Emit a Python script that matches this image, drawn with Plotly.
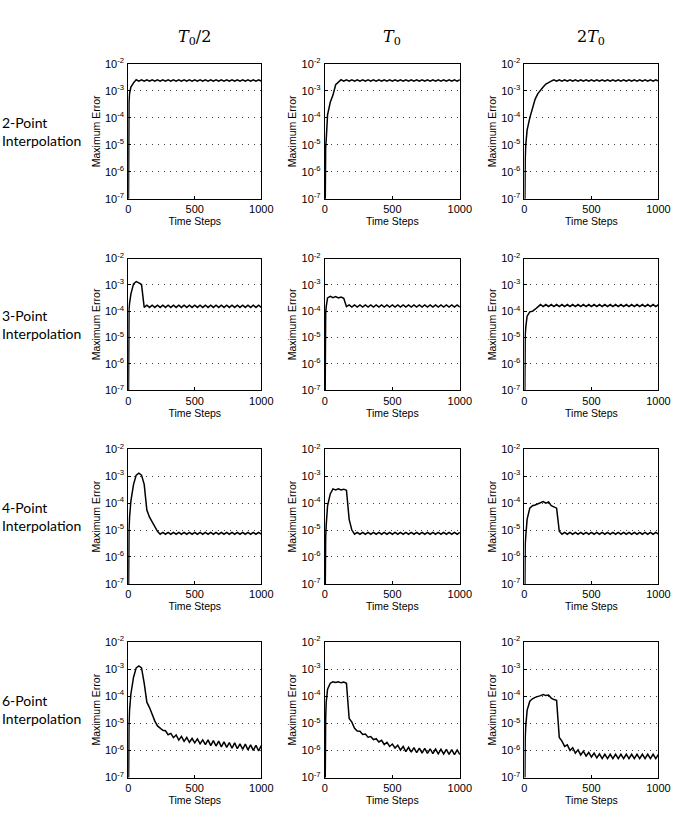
import plotly.graph_objects as go

# ---------------- data ----------------
col_titles = ["<i>T</i><sub>0</sub>/2", "<i>T</i><sub>0</sub>", "2<i>T</i><sub>0</sub>"]
row_titles = ["2-Point<br>Interpolation", "3-Point<br>Interpolation",
              "4-Point<br>Interpolation", "6-Point<br>Interpolation"]

steps = [0, 3, 6, 10, 14, 20, 40, 60, 80, 100, 120, 140, 160, 180, 200, 220, 240, 260,
         280, 300, 320, 340, 360, 380, 400, 420, 440, 460, 480, 500, 520, 540, 560, 580,
         600, 620, 640, 660, 680, 700, 720, 740, 760, 780, 800, 820, 840, 860, 880, 900,
         920, 940, 960, 980, 1000]

# 2-point interpolation
err_2pt_half = [1e-9, 2e-4, 4e-4, 8e-4, 1.1e-3, 1.4e-3, 2.0e-3, 2.6e-3,
                2.3e-3, 2.6e-3, 2.3e-3, 2.6e-3, 2.3e-3, 2.6e-3, 2.3e-3, 2.6e-3, 2.3e-3, 2.6e-3,
                2.3e-3, 2.6e-3, 2.3e-3, 2.6e-3, 2.3e-3, 2.6e-3, 2.3e-3, 2.6e-3, 2.3e-3, 2.6e-3,
                2.3e-3, 2.6e-3, 2.3e-3, 2.6e-3, 2.3e-3, 2.6e-3, 2.3e-3, 2.6e-3, 2.3e-3, 2.6e-3,
                2.3e-3, 2.6e-3, 2.3e-3, 2.6e-3, 2.3e-3, 2.6e-3, 2.3e-3, 2.6e-3, 2.3e-3, 2.6e-3,
                2.3e-3, 2.6e-3, 2.3e-3, 2.6e-3, 2.3e-3, 2.6e-3, 2.3e-3]
err_2pt_t0 = [1e-9, 3e-6, 8e-6, 1.5e-5, 4e-5, 1.3e-4, 3.8e-4, 7e-4, 1.7e-3, 2.2e-3,
              2.6e-3, 2.3e-3, 2.6e-3, 2.3e-3, 2.6e-3, 2.3e-3, 2.6e-3, 2.3e-3, 2.6e-3, 2.3e-3,
              2.6e-3, 2.3e-3, 2.6e-3, 2.3e-3, 2.6e-3, 2.3e-3, 2.6e-3, 2.3e-3, 2.6e-3, 2.3e-3,
              2.6e-3, 2.3e-3, 2.6e-3, 2.3e-3, 2.6e-3, 2.3e-3, 2.6e-3, 2.3e-3, 2.6e-3, 2.3e-3,
              2.6e-3, 2.3e-3, 2.6e-3, 2.3e-3, 2.6e-3, 2.3e-3, 2.6e-3, 2.3e-3, 2.6e-3, 2.3e-3,
              2.6e-3, 2.3e-3, 2.6e-3, 2.3e-3, 2.6e-3]
err_2pt_2t0 = [1e-9, 1e-6, 3e-6, 1e-5, 2e-5, 3.5e-5, 1e-4, 2.5e-4, 5e-4, 8e-4, 1.1e-3,
               1.4e-3, 1.8e-3, 2.1e-3, 2.3e-3,
               2.6e-3, 2.3e-3, 2.6e-3, 2.3e-3, 2.6e-3, 2.3e-3, 2.6e-3, 2.3e-3, 2.6e-3, 2.3e-3,
               2.6e-3, 2.3e-3, 2.6e-3, 2.3e-3, 2.6e-3, 2.3e-3, 2.6e-3, 2.3e-3, 2.6e-3, 2.3e-3,
               2.6e-3, 2.3e-3, 2.6e-3, 2.3e-3, 2.6e-3, 2.3e-3, 2.6e-3, 2.3e-3, 2.6e-3, 2.3e-3,
               2.6e-3, 2.3e-3, 2.6e-3, 2.3e-3, 2.6e-3, 2.3e-3, 2.6e-3, 2.3e-3, 2.6e-3, 2.3e-3]

# 3-point interpolation
err_3pt_half = [1e-9, 5e-5, 1.2e-4, 2e-4, 3e-4, 4.5e-4, 1.1e-3, 1.35e-3, 1.2e-3, 1.05e-3,
                1.4e-4, 1.7e-4, 1.4e-4, 1.7e-4, 1.4e-4, 1.7e-4, 1.4e-4, 1.7e-4, 1.4e-4, 1.7e-4,
                1.4e-4, 1.7e-4, 1.4e-4, 1.7e-4, 1.4e-4, 1.7e-4, 1.4e-4, 1.7e-4, 1.4e-4, 1.7e-4,
                1.4e-4, 1.7e-4, 1.4e-4, 1.7e-4, 1.4e-4, 1.7e-4, 1.4e-4, 1.7e-4, 1.4e-4, 1.7e-4,
                1.4e-4, 1.7e-4, 1.4e-4, 1.7e-4, 1.4e-4, 1.7e-4, 1.4e-4, 1.7e-4, 1.4e-4, 1.7e-4,
                1.4e-4, 1.7e-4, 1.4e-4, 1.7e-4, 1.4e-4]
err_3pt_t0 = [1e-9, 3e-5, 8e-5, 1.5e-4, 2.5e-4, 3.2e-4, 3.7e-4, 3.3e-4, 3.6e-4, 3.2e-4,
              3.5e-4, 3.1e-4, 1.5e-4,
              1.75e-4, 1.45e-4, 1.75e-4, 1.45e-4, 1.75e-4, 1.45e-4, 1.75e-4, 1.45e-4,
              1.75e-4, 1.45e-4, 1.75e-4, 1.45e-4, 1.75e-4, 1.45e-4, 1.75e-4, 1.45e-4,
              1.75e-4, 1.45e-4, 1.75e-4, 1.45e-4, 1.75e-4, 1.45e-4, 1.75e-4, 1.45e-4,
              1.75e-4, 1.45e-4, 1.75e-4, 1.45e-4, 1.75e-4, 1.45e-4, 1.75e-4, 1.45e-4,
              1.75e-4, 1.45e-4, 1.75e-4, 1.45e-4, 1.75e-4, 1.45e-4, 1.75e-4, 1.45e-4,
              1.75e-4, 1.45e-4]
err_3pt_2t0 = [1e-9, 5e-6, 1.2e-5, 2.5e-5, 4.5e-5, 6.5e-5, 9.5e-5, 1.0e-4, 1.2e-4, 1.5e-4,
               1.8e-4, 1.5e-4, 1.8e-4, 1.5e-4, 1.8e-4, 1.5e-4, 1.8e-4, 1.5e-4, 1.8e-4, 1.5e-4,
               1.8e-4, 1.5e-4, 1.8e-4, 1.5e-4, 1.8e-4, 1.5e-4, 1.8e-4, 1.5e-4, 1.8e-4, 1.5e-4,
               1.8e-4, 1.5e-4, 1.8e-4, 1.5e-4, 1.8e-4, 1.5e-4, 1.8e-4, 1.5e-4, 1.8e-4, 1.5e-4,
               1.8e-4, 1.5e-4, 1.8e-4, 1.5e-4, 1.8e-4, 1.5e-4, 1.8e-4, 1.5e-4, 1.8e-4, 1.5e-4,
               1.8e-4, 1.5e-4, 1.8e-4, 1.5e-4, 1.8e-4]

# 4-point interpolation
err_4pt_half = [1e-9, 3e-6, 1e-5, 3e-5, 6e-5, 1.2e-4, 5e-4, 1.1e-3, 1.3e-3, 1.1e-3, 5e-4,
                5.5e-5, 3e-5, 2e-5, 1.2e-5, 9e-6,
                7.0e-6, 8.2e-6, 7.0e-6, 8.2e-6, 7.0e-6, 8.2e-6, 7.0e-6, 8.2e-6, 7.0e-6, 8.2e-6,
                7.0e-6, 8.2e-6, 7.0e-6, 8.2e-6, 7.0e-6, 8.2e-6, 7.0e-6, 8.2e-6, 7.0e-6, 8.2e-6,
                7.0e-6, 8.2e-6, 7.0e-6, 8.2e-6, 7.0e-6, 8.2e-6, 7.0e-6, 8.2e-6, 7.0e-6, 8.2e-6,
                7.0e-6, 8.2e-6, 7.0e-6, 8.2e-6, 7.0e-6, 8.2e-6, 7.0e-6, 8.2e-6, 7.0e-6]
err_4pt_t0 = [1e-9, 2e-6, 5e-6, 1.5e-5, 3e-5, 8e-5, 2.2e-4, 3.4e-4, 3.1e-4, 3.4e-4, 3.1e-4,
              3.3e-4, 3.0e-4, 2.5e-5, 1e-5,
              7.0e-6, 8.2e-6, 7.0e-6, 8.2e-6, 7.0e-6, 8.2e-6, 7.0e-6, 8.2e-6, 7.0e-6, 8.2e-6,
              7.0e-6, 8.2e-6, 7.0e-6, 8.2e-6, 7.0e-6, 8.2e-6, 7.0e-6, 8.2e-6, 7.0e-6, 8.2e-6,
              7.0e-6, 8.2e-6, 7.0e-6, 8.2e-6, 7.0e-6, 8.2e-6, 7.0e-6, 8.2e-6, 7.0e-6, 8.2e-6,
              7.0e-6, 8.2e-6, 7.0e-6, 8.2e-6, 7.0e-6, 8.2e-6, 7.0e-6, 8.2e-6, 7.0e-6, 8.2e-6]
err_4pt_2t0 = [1e-9, 1e-6, 3e-6, 6e-6, 1.2e-5, 2.5e-5, 6.5e-5, 8e-5, 8.5e-5, 9.5e-5, 1.1e-4,
               1.15e-4, 1.0e-4, 1.1e-4, 8e-5, 7e-5, 6.5e-5, 9e-6,
               7.0e-6, 8.2e-6, 7.0e-6, 8.2e-6, 7.0e-6, 8.2e-6, 7.0e-6, 8.2e-6, 7.0e-6, 8.2e-6,
               7.0e-6, 8.2e-6, 7.0e-6, 8.2e-6, 7.0e-6, 8.2e-6, 7.0e-6, 8.2e-6, 7.0e-6, 8.2e-6,
               7.0e-6, 8.2e-6, 7.0e-6, 8.2e-6, 7.0e-6, 8.2e-6, 7.0e-6, 8.2e-6, 7.0e-6, 8.2e-6,
               7.0e-6, 8.2e-6, 7.0e-6, 8.2e-6, 7.0e-6, 8.2e-6, 7.0e-6]

# 6-point interpolation
err_6pt_half = [1e-9, 3e-6, 1e-5, 3e-5, 6e-5, 1.2e-4, 5e-4, 1.1e-3, 1.3e-3, 1.1e-3, 3e-4,
                6e-5, 3.8e-5, 2e-5, 1.2e-5, 8e-6, 6.5e-6, 5.5e-6,
                5.3e-6, 3.8e-6, 4.25e-6, 2.95e-6, 3.7e-6, 2.4e-6, 3.3e-6, 2.15e-6, 3.0e-6,
                2.0e-6, 2.75e-6, 1.9e-6, 2.65e-6, 1.75e-6, 2.45e-6, 1.65e-6, 2.45e-6, 1.5e-6,
                2.3e-6, 1.45e-6, 2.2e-6, 1.35e-6, 2.05e-6, 1.3e-6, 1.95e-6, 1.2e-6, 1.9e-6,
                1.15e-6, 1.75e-6, 1.1e-6, 1.7e-6, 1.05e-6, 1.6e-6, 1.0e-6, 1.55e-6, 0.95e-6,
                1.5e-6]
err_6pt_t0 = [1e-9, 3e-6, 1.5e-5, 6e-5, 1.2e-4, 1.8e-4, 3.0e-4, 3.4e-4, 3.2e-4, 3.4e-4,
              3.1e-4, 3.3e-4, 3.0e-4, 1.5e-5, 1.1e-5, 6.5e-6, 5.2e-6,
              5.1e-6, 3.9e-6, 4.0e-6, 3.05e-6, 3.25e-6, 2.5e-6, 2.7e-6, 2.05e-6, 2.35e-6,
              1.65e-6, 2.0e-6, 1.4e-6, 1.72e-6, 1.22e-6, 1.56e-6, 1.02e-6, 1.4e-6, 0.9e-6,
              1.3e-6, 0.86e-6, 1.26e-6, 0.82e-6, 1.22e-6, 0.8e-6, 1.18e-6, 0.78e-6, 1.15e-6,
              0.76e-6, 1.12e-6, 0.75e-6, 1.1e-6, 0.74e-6, 1.09e-6, 0.72e-6, 1.06e-6, 0.7e-6,
              1.04e-6, 0.7e-6]
err_6pt_2t0 = [1e-9, 1e-6, 3e-6, 8e-6, 1.8e-5, 3e-5, 6.5e-5, 8e-5, 9e-5, 1.0e-4, 1.05e-4,
               1.15e-4, 1.05e-4, 1.1e-4, 8.5e-5, 7.5e-5, 7e-5, 3e-6,
               2.2e-6, 1.4e-6, 1.6e-6, 1.0e-6, 1.26e-6, 0.79e-6, 1.05e-6, 0.68e-6, 0.94e-6,
               0.62e-6, 0.84e-6, 0.57e-6, 0.79e-6, 0.53e-6, 0.74e-6,
               0.5e-6, 0.72e-6, 0.5e-6, 0.72e-6, 0.5e-6, 0.72e-6, 0.5e-6, 0.72e-6, 0.5e-6,
               0.72e-6, 0.5e-6, 0.72e-6, 0.5e-6, 0.72e-6, 0.5e-6, 0.72e-6, 0.5e-6, 0.72e-6,
               0.5e-6, 0.72e-6, 0.5e-6, 0.72e-6]

series = [[err_2pt_half, err_2pt_t0, err_2pt_2t0],
          [err_3pt_half, err_3pt_t0, err_3pt_2t0],
          [err_4pt_half, err_4pt_t0, err_4pt_2t0],
          [err_6pt_half, err_6pt_t0, err_6pt_2t0]]

x_ticks = [0, 500, 1000]
y_ticks = [1e-7, 1e-6, 1e-5, 1e-4, 1e-3, 1e-2]
y_tick_text = ["10<sup>-7</sup>", "10<sup>-6</sup>", "10<sup>-5</sup>",
               "10<sup>-4</sup>", "10<sup>-3</sup>", "10<sup>-2</sup>"]

# ---------------- layout ----------------
W, H = 691, 814
col_px = [(128, 264), (329, 467), (533, 670)]
row_px = [(57, 194), (255, 389), (449, 586), (645, 783)]

fig = go.Figure()
tickfont = dict(family="Liberation Sans, Arial, sans-serif", size=11, color="black")
titlefont = dict(family="Liberation Sans, Arial, sans-serif", size=10.5, color="black")

k = 0
for r in range(4):
    for c in range(3):
        k += 1
        xa = "x" if k == 1 else f"x{k}"
        ya = "y" if k == 1 else f"y{k}"
        fig.add_trace(go.Scatter(x=steps, y=series[r][c], mode="lines",
                                 line=dict(color="black", width=1.5),
                                 xaxis=xa, yaxis=ya, showlegend=False,
                                 hoverinfo="skip"))
        x0, x1 = col_px[c]
        y0, y1 = row_px[r]
        xkey = "xaxis" if k == 1 else f"xaxis{k}"
        ykey = "yaxis" if k == 1 else f"yaxis{k}"
        fig.update_layout(**{
            xkey: dict(domain=[x0 / W, x1 / W], anchor=ya, range=[0, 1000],
                       tickvals=x_ticks, showline=True, mirror=True,
                       linecolor="black", linewidth=1, ticks="inside", ticklen=3,
                       tickcolor="black", showgrid=False, zeroline=False,
                       tickfont=tickfont, ticklabelstandoff=0,
                       title=dict(text="Time Steps", font=titlefont, standoff=0)),
            ykey: dict(domain=[1 - y1 / H, 1 - y0 / H], anchor=xa, type="log",
                       range=[-7, -2], tickvals=y_ticks, ticktext=y_tick_text,
                       showline=True, mirror=True, linecolor="black", linewidth=1,
                       ticks="inside", ticklen=3, tickcolor="black",
                       showgrid=True, gridcolor="#444", gridwidth=1,
                       griddash="1px,5px", zeroline=False, tickfont=tickfont,
                       ticklabelstandoff=1,
                       title=dict(text="Maximum Error", font=titlefont, standoff=2)),
        })

annotations = []
for c in range(3):
    x0, x1 = col_px[c]
    annotations.append(dict(text=col_titles[c], x=(x0 + x1) / 2 / W, y=1 - 30 / H,
                            xref="paper", yref="paper", showarrow=False,
                            xanchor="center", yanchor="middle",
                            font=dict(family="DejaVu Serif, serif", size=16, color="black")))
for r in range(4):
    y0, y1 = row_px[r]
    annotations.append(dict(text=row_titles[r], x=-0.004, y=1 - (y0 + y1) / 2 / H,
                            xref="paper", yref="paper", showarrow=False,
                            xanchor="left", yanchor="middle", align="left",
                            font=dict(family="Lato, sans-serif", size=14, color="black")))

fig.update_layout(width=W, height=H, margin=dict(l=0, r=0, t=0, b=0),
                  paper_bgcolor="white", plot_bgcolor="white",
                  annotations=annotations)

fig.write_html("out.html")
